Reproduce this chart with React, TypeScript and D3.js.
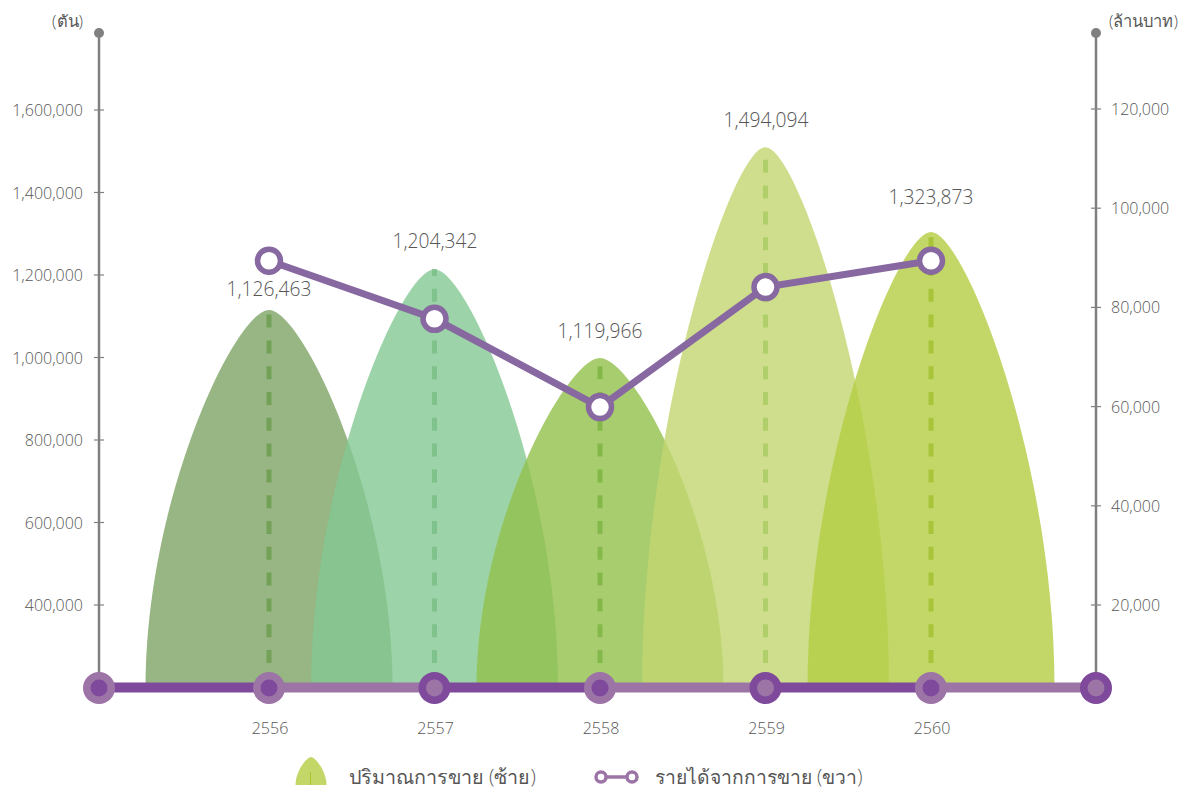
import React from "react";
import * as d3 from "d3";

const years = ["2556", "2557", "2558", "2559", "2560"];
const peakVolumes = [1115000, 1214000, 999000, 1510000, 1304000];
const volumeLabels = ["1,126,463", "1,204,342", "1,119,966", "1,494,094", "1,323,873"];
const revenue = [89400, 77700, 59900, 84100, 89400];
const leftTicks = [400000, 600000, 800000, 1000000, 1200000, 1400000, 1600000];
const rightTicks = [20000, 40000, 60000, 80000, 100000, 120000];
const fills = ["#7da464", "#83c892", "#92c04b", "#c2d670", "#b4cd42"];
const dashes = ["#74a158", "#7fc28b", "#85b84a", "#b0cf6a", "#a8c53a"];
const labelX = [269, 435, 600, 766, 931];
const labelY = [296, 248, 338, 127, 204];
const FONT = "'Open Sans','Noto Sans',sans-serif";

const W = 1184, H = 791;
const yL = d3.scaleLinear().domain([200000, 1600000]).range([687.5, 110]);
const yR = d3.scaleLinear().domain([20000, 120000]).range([605, 109]);
const x = d3.scaleLinear().domain([0, 4]).range([269, 931]);
const xLeft = 99, xRight = 1096, base = 687.5, halfW = 123.5;

function peak(cx: number, top: number, hw: number, b: number) {
  const h = b - top;
  const p = d3.path();
  p.moveTo(cx - hw, b);
  p.bezierCurveTo(cx - hw, b - h * 0.5, cx - hw * 0.27, top, cx, top);
  p.bezierCurveTo(cx + hw * 0.27, top, cx + hw, b - h * 0.5, cx + hw, b);
  p.closePath();
  return p.toString();
}

export default function App() {
  const stops = [xLeft, ...years.map((_, i) => x(i)), xRight];
  const ringDark = [false, false, true, false, true, false, true];
  const line = d3.line<number>().x((_, i) => x(i)).y(d => yR(d));
  const grey = "#808080", txt = "#555555", dark = "#7f4a9b", light = "#9c74a6";
  return (
    <svg width={W} height={H} style={{ position: "absolute", left: 0, top: 0 }} fontFamily={FONT}>
      {years.map((y, i) => (
        <g key={y}>
          <path d={peak(x(i), yL(peakVolumes[i]), halfW, base)} fill={fills[i]} fillOpacity={0.8} />
          <line x1={x(i)} x2={x(i)} y1={663} y2={yL(peakVolumes[i])} stroke={dashes[i]} strokeWidth={5} strokeDasharray="13 12.8" />
        </g>
      ))}
      {[xLeft, xRight].map(px => (
        <g key={px}>
          <line x1={px} x2={px} y1={33} y2={base} stroke={grey} strokeWidth={2.5} />
          <circle cx={px} cy={33} r={5} fill={grey} />
        </g>
      ))}
      {leftTicks.map(t => (
        <line key={t} x1={xLeft - 5} x2={xLeft + 5} y1={yL(t)} y2={yL(t)} stroke={grey} strokeWidth={1.2} />
      ))}
      {rightTicks.map(t => (
        <line key={t} x1={xRight - 5} x2={xRight + 5} y1={yR(t)} y2={yR(t)} stroke={grey} strokeWidth={1.2} />
      ))}
      {stops.slice(0, -1).map((s, i) => (
        <line key={s} x1={s} x2={stops[i + 1]} y1={base} y2={base} stroke={i % 2 === 0 ? dark : light} strokeWidth={10} />
      ))}
      {stops.map((s, i) => (
        <g key={s}>
          <circle cx={s} cy={base + 0.5} r={16} fill={ringDark[i] ? dark : light} />
          <circle cx={s} cy={base + 0.5} r={8.5} fill={ringDark[i] ? light : dark} />
        </g>
      ))}
      <path d={line(revenue) ?? ""} fill="none" stroke="#8868a0" strokeWidth={7} />
      {revenue.map((v, i) => (
        <circle key={i} cx={x(i)} cy={yR(v)} r={11.5} fill="#fff" stroke="#8868a0" strokeWidth={5.5} />
      ))}
      <path d={peak(311, 757, 15.5, 785)} fill="#c3d768" />
      <line x1={310.5} x2={310.5} y1={772} y2={785} stroke="#a8c52f" strokeWidth={1} />
      <line x1={600} x2={633} y1={777} y2={777} stroke={light} strokeWidth={3.5} />
      <circle cx={601} cy={777} r={5} fill="#fff" stroke={light} strokeWidth={3.5} />
      <circle cx={632} cy={777} r={5} fill="#fff" stroke={light} strokeWidth={3.5} />
      <g opacity={0.99} fontWeight={300} fill={txt}>
        {leftTicks.map(t => (
          <text key={t} x={83} y={yL(t) + 6} textAnchor="end" fontSize={16}>{d3.format(",")(t)}</text>
        ))}
        {rightTicks.map(t => (
          <text key={t} x={1111} y={yR(t) + 6} fontSize={16}>{d3.format(",")(t)}</text>
        ))}
        <text x={83} y={27} textAnchor="end" fontSize={16.5}>(ตัน)</text>
        <text x={1109} y={27} fontSize={16.5}>(ล้านบาท)</text>
        {years.map((y, i) => (
          <text key={y} x={x(i) + 1} y={734} textAnchor="middle" fontSize={16}>{y}</text>
        ))}
        {volumeLabels.map((l, i) => (
          <text key={l} x={labelX[i]} y={labelY[i]} textAnchor="middle" fontSize={19.2}>{l}</text>
        ))}
        <text x={349} y={784} fontSize={19.7}>ปริมาณการขาย (ซ้าย)</text>
        <text x={655} y={784} fontSize={19.3}>รายได้จากการขาย (ขวา)</text>
      </g>
    </svg>
  );
}
